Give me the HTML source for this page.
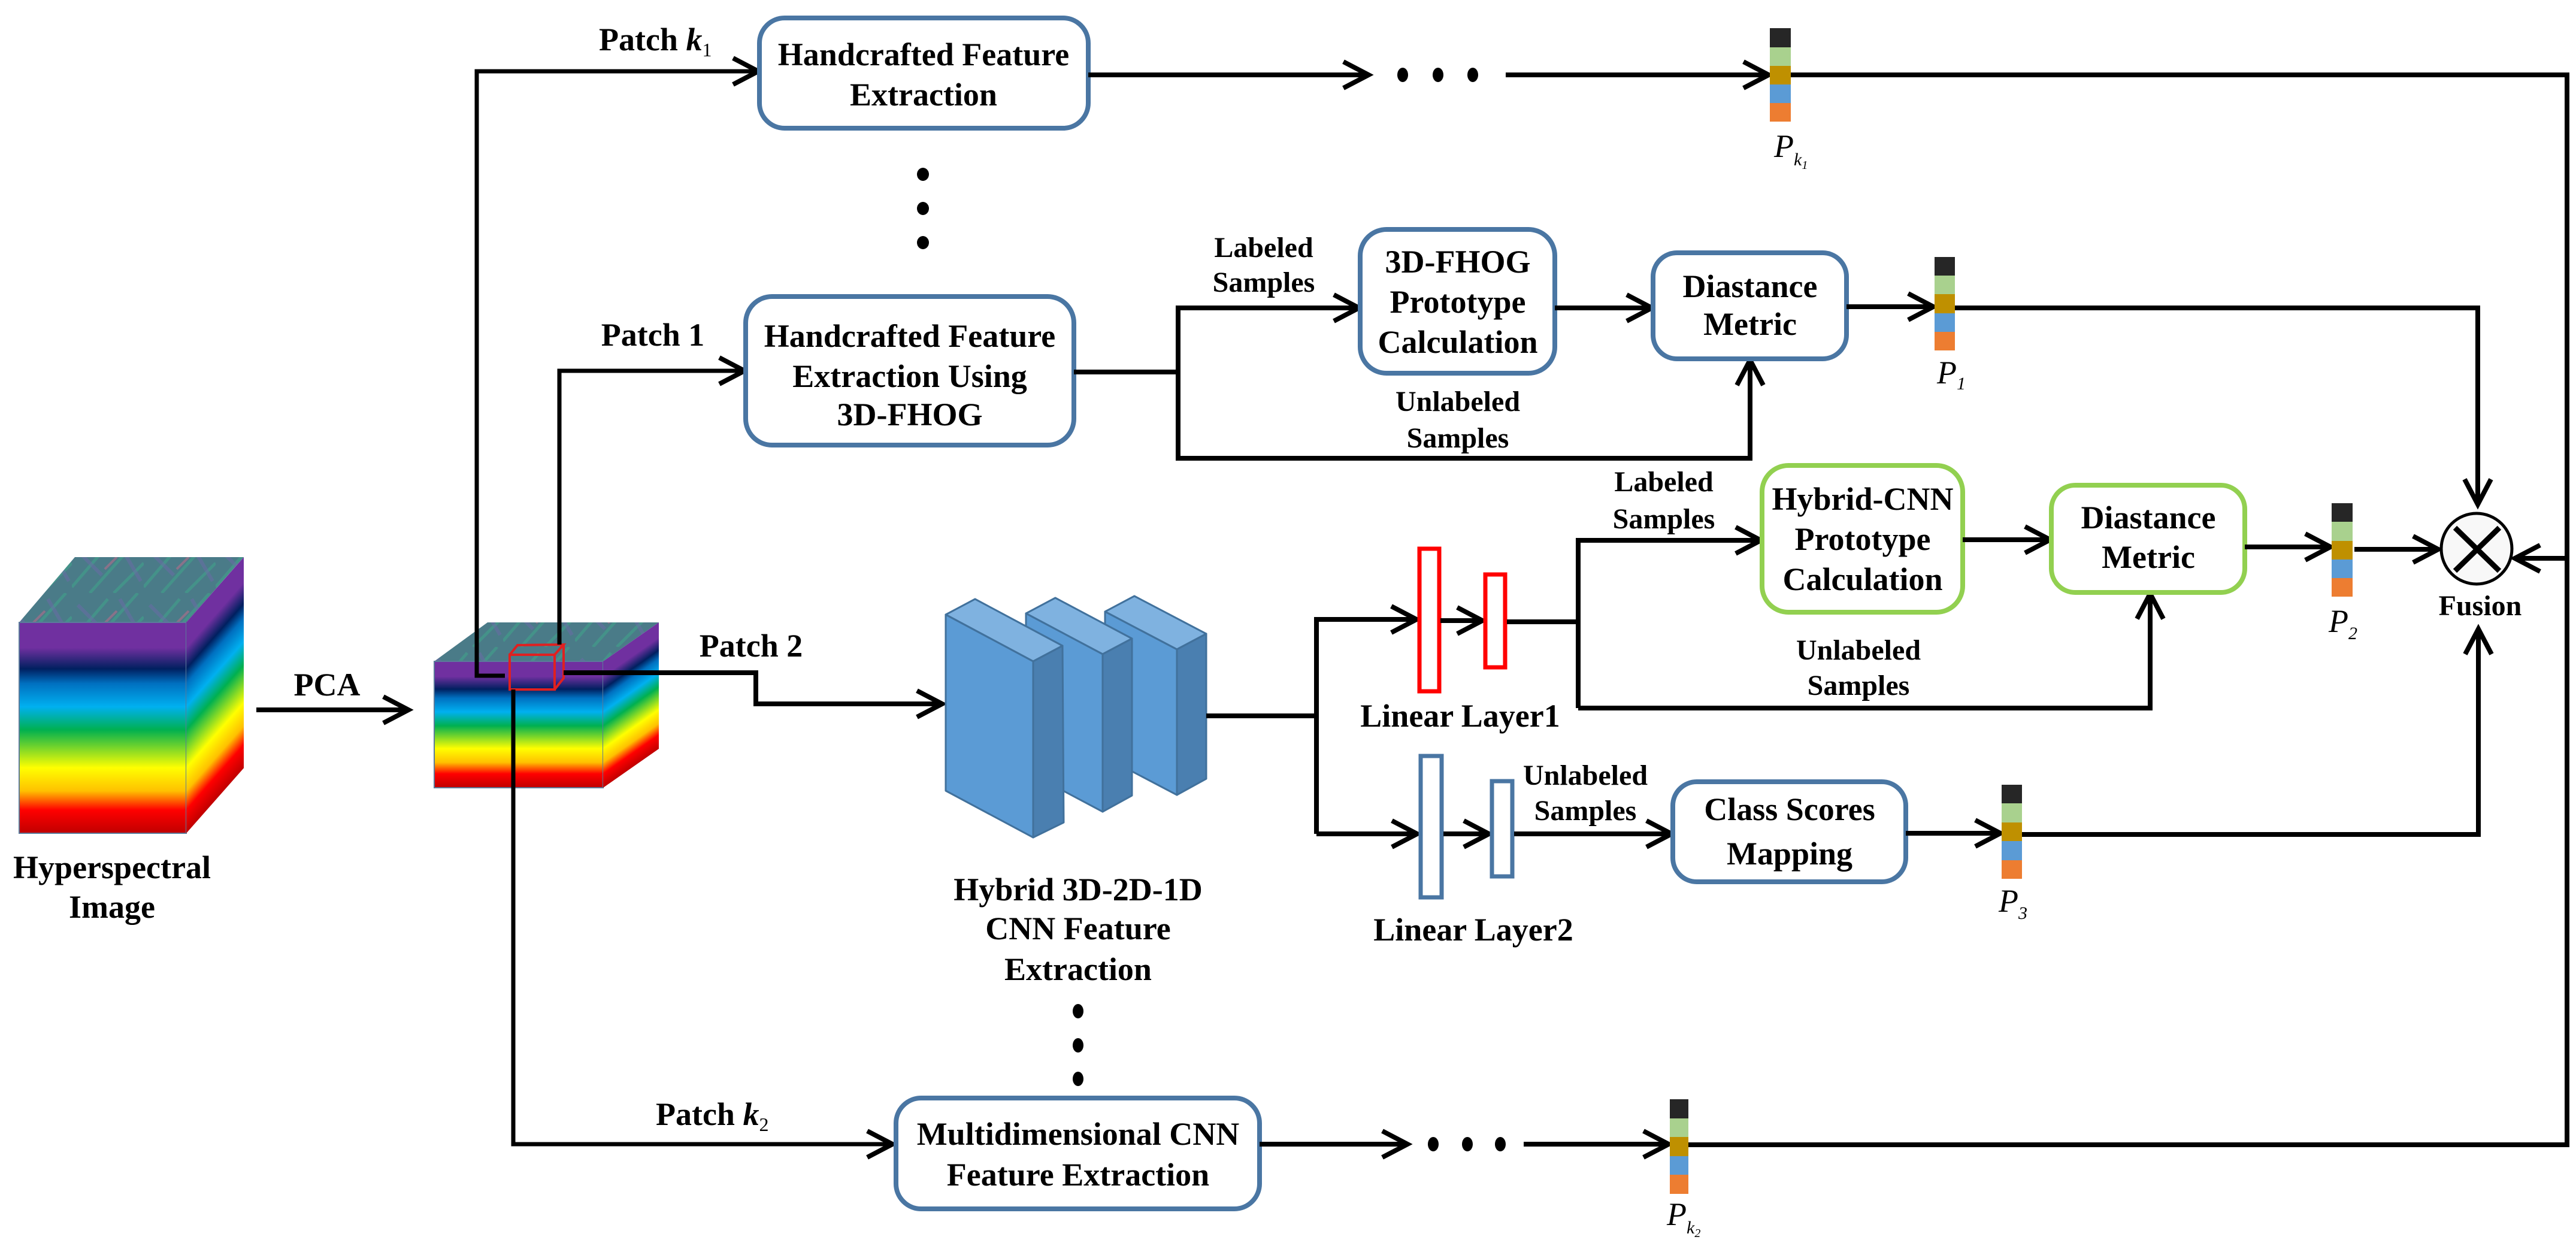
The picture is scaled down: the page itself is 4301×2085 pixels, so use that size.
<!DOCTYPE html>
<html><head><meta charset="utf-8"><style>
html,body{margin:0;padding:0;background:#fff;}
svg{display:block;}
svg text{font-family:"Liberation Serif","DejaVu Serif",serif !important;font-weight:bold;font-size:54px;fill:#000;text-anchor:middle;}
svg text.it{font-style:italic;font-weight:normal;}
.ln{fill:none;stroke:#000;stroke-width:8;}
.bb{fill:#fff;stroke:#4a76a3;stroke-width:8;}
.gb{fill:#fff;stroke:#92d050;stroke-width:8;}
</style></head><body>
<svg width="4301" height="2085" viewBox="0 0 4301 2085" xmlns="http://www.w3.org/2000/svg" font-family="Liberation Serif, serif">
<defs>
<marker id="a" markerUnits="userSpaceOnUse" markerWidth="60" markerHeight="60" viewBox="-50 -30 60 60" refX="0" refY="0" orient="auto">
<path d="M-42,-22 L0,0 L-42,22" fill="none" stroke="#000" stroke-width="8" stroke-linejoin="miter"/>
</marker>
<linearGradient id="spec" x1="0" y1="0" x2="0" y2="1">
<stop offset="0" stop-color="#7030a0"/><stop offset="0.12" stop-color="#7030a0"/>
<stop offset="0.22" stop-color="#002060"/><stop offset="0.29" stop-color="#0070c0"/>
<stop offset="0.40" stop-color="#00b0f0"/><stop offset="0.51" stop-color="#00b050"/>
<stop offset="0.69" stop-color="#ffff00"/><stop offset="0.80" stop-color="#ffc000"/>
<stop offset="0.89" stop-color="#ff0000"/><stop offset="1" stop-color="#c00000"/>
</linearGradient>
<pattern id="sat" patternUnits="userSpaceOnUse" width="120" height="90">
<rect width="120" height="90" fill="#4a7b88"/>
<path d="M0,80 L60,10 M30,90 L110,0 M70,90 L120,40" stroke="#3da98a" stroke-width="5" opacity="0.5"/>
<path d="M10,20 L50,60 M80,10 L115,70" stroke="#6b6aa8" stroke-width="6" opacity="0.5"/>
<path d="M55,50 L75,30" stroke="#c86a8a" stroke-width="4" opacity="0.5"/>
</pattern>
</defs>

<g font-family="Liberation Serif, serif">
<!-- Big cube -->
<polygon points="32,1039 311,1039 407,930 125,930" fill="url(#sat)"/>
<rect x="32" y="1039" width="279" height="352" fill="url(#spec)" stroke="#5b7b9b" stroke-width="2"/>
<g transform="translate(311,1039) skewY(-48.6)"><rect x="0" y="0" width="96" height="352" fill="url(#spec)"/></g>
<text x="187" y="1466">Hyperspectral</text>
<text x="187" y="1532">Image</text>

<!-- PCA -->
<text x="546" y="1161">PCA</text>
<line class="ln" x1="428" y1="1185" x2="682" y2="1185" marker-end="url(#a)"/>

<!-- Small cube -->
<polygon points="725,1104 1007,1104 1100,1039 814,1039" fill="url(#sat)"/>
<rect x="725" y="1104" width="282" height="211" fill="url(#spec)" stroke="#5b7b9b" stroke-width="2"/>
<g transform="translate(1007,1104) skewY(-34.95)"><rect x="0" y="0" width="93" height="211" fill="url(#spec)"/></g>
<g fill="none" stroke="#e02020" stroke-width="4">
<rect x="851" y="1093" width="75" height="58"/>
<polyline points="851,1093 864,1077 941,1076 926,1093"/>
<polyline points="941,1076 941,1132 926,1151"/>
</g>

<!-- Patch lines -->
<polyline class="ln" points="843,1128 796,1128 796,119 1266,119" marker-end="url(#a)" style="stroke-width:7"/>
<text x="1000" y="84" style="text-anchor:start">Patch <tspan style="font-style:italic">k</tspan><tspan font-size="32" dy="10" style="font-weight:normal">1</tspan></text>
<polyline class="ln" points="934,1076 934,619 1243,619" marker-end="url(#a)" style="stroke-width:7"/>
<text x="1090" y="577">Patch 1</text>
<polyline class="ln" points="941,1123 1262,1123 1262,1175 1573,1175" marker-end="url(#a)"/>
<text x="1254" y="1096">Patch 2</text>
<polyline class="ln" points="857,1151 857,1910 1490,1910" marker-end="url(#a)" style="stroke-width:7"/>
<text x="1095" y="1878" style="text-anchor:start">Patch <tspan style="font-style:italic">k</tspan><tspan font-size="32" dy="10" style="font-weight:normal">2</tspan></text>

<!-- HFE top -->
<rect class="bb" x="1268" y="30" width="549" height="184" rx="42"/>
<text x="1542" y="109">Handcrafted Feature</text>
<text x="1542" y="176">Extraction</text>
<line class="ln" x1="1817" y1="125" x2="2285" y2="125" marker-end="url(#a)"/>
<g fill="#000"><ellipse cx="2342" cy="125" rx="9" ry="12"/><ellipse cx="2401" cy="125" rx="9" ry="12"/><ellipse cx="2459" cy="125" rx="9" ry="12"/></g>
<line class="ln" x1="2514" y1="125" x2="2953" y2="125" marker-end="url(#a)"/>
<g><rect x="2955" y="47" width="35" height="32" fill="#262626"/><rect x="2955" y="79" width="35" height="31" fill="#a9d18e"/><rect x="2955" y="110" width="35" height="31" fill="#bf9000"/><rect x="2955" y="141" width="35" height="31" fill="#5b9bd5"/><rect x="2955" y="172" width="35" height="31" fill="#ed7d31"/></g>
<text class="it" x="2962" y="262" style="text-anchor:start">P<tspan font-size="30" dy="14">k</tspan><tspan font-size="20" dy="6">1</tspan></text>
<polyline class="ln" points="2990,125 4286,125 4286,1911 2819,1911"/>
<line class="ln" x1="4286" y1="932" x2="4199" y2="932" marker-end="url(#a)"/>

<g fill="#000"><ellipse cx="1541" cy="291" rx="10" ry="11"/><ellipse cx="1541" cy="348" rx="10" ry="11"/><ellipse cx="1541" cy="405" rx="10" ry="11"/></g>

<!-- 3D-FHOG branch -->
<rect class="bb" x="1245" y="495" width="548" height="248" rx="44"/>
<text x="1519" y="579">Handcrafted Feature</text>
<text x="1519" y="646">Extraction Using</text>
<text x="1519" y="710">3D-FHOG</text>
<polyline class="ln" points="1793,621 1967,621"/>
<polyline class="ln" points="1967,514 1967,765 2922,765 2922,601" marker-end="url(#a)"/>
<line class="ln" x1="1963" y1="514" x2="2269" y2="514" marker-end="url(#a)"/>
<text x="2110" y="429" style="font-size:48px">Labeled</text>
<text x="2110" y="487" style="font-size:48px">Samples</text>
<text x="2434" y="686" style="font-size:48px">Unlabeled</text>
<text x="2434" y="747" style="font-size:48px">Samples</text>
<rect class="bb" x="2271" y="383" width="325" height="240" rx="44"/>
<text x="2434" y="455">3D-FHOG</text>
<text x="2434" y="522">Prototype</text>
<text x="2434" y="589">Calculation</text>
<line class="ln" x1="2596" y1="514" x2="2758" y2="514" marker-end="url(#a)"/>
<rect class="bb" x="2760" y="422" width="323" height="177" rx="40"/>
<text x="2922" y="496">Diastance</text>
<text x="2922" y="559">Metric</text>
<line class="ln" x1="3083" y1="512" x2="3228" y2="512" marker-end="url(#a)"/>
<g><rect x="3230" y="429" width="34" height="31" fill="#262626"/><rect x="3230" y="460" width="34" height="31" fill="#a9d18e"/><rect x="3230" y="491" width="34" height="32" fill="#bf9000"/><rect x="3230" y="523" width="34" height="31" fill="#5b9bd5"/><rect x="3230" y="554" width="34" height="31" fill="#ed7d31"/></g>
<text class="it" x="3234" y="640" style="text-anchor:start">P<tspan font-size="30" dy="10">1</tspan></text>
<polyline class="ln" points="3264,514 4137,514 4137,842" marker-end="url(#a)"/>

<!-- CNN blocks -->
<g stroke="#41719c" stroke-width="3" stroke-linejoin="round">
<polygon points="1845,1021 1894,995 2014,1058 1965,1084" fill="#7fb2e0"/>
<polygon points="1965,1084 2014,1058 2014,1300 1965,1327" fill="#4a7fb0"/>
<polygon points="1845,1021 1965,1084 1965,1327 1845,1264" fill="#5b9bd5"/>
<polygon points="1713,1024 1762,998 1890,1066 1841,1092" fill="#7fb2e0"/>
<polygon points="1841,1092 1890,1066 1890,1328 1841,1355" fill="#4a7fb0"/>
<polygon points="1713,1024 1841,1092 1841,1355 1713,1287" fill="#5b9bd5"/>
<polygon points="1579,1026 1628,1000 1774,1078 1725,1104" fill="#7fb2e0"/>
<polygon points="1725,1104 1774,1078 1776,1373 1725,1398" fill="#4a7fb0"/>
<polygon points="1579,1026 1725,1104 1725,1398 1579,1320" fill="#5b9bd5"/>
</g>
<text x="1800" y="1503">Hybrid 3D-2D-1D</text>
<text x="1800" y="1568">CNN Feature</text>
<text x="1800" y="1636">Extraction</text>
<g fill="#000"><ellipse cx="1800" cy="1688" rx="9" ry="12"/><ellipse cx="1800" cy="1745" rx="9" ry="12"/><ellipse cx="1800" cy="1801" rx="9" ry="12"/></g>

<!-- CNN branches -->
<polyline class="ln" points="2014,1195 2198,1195"/>
<polyline class="ln" points="2198,1034 2198,1392"/>
<line class="ln" x1="2194" y1="1034" x2="2365" y2="1034" marker-end="url(#a)"/>
<rect x="2370" y="916" width="33" height="238" fill="#fff" stroke="#ff0000" stroke-width="7"/>
<line class="ln" x1="2405" y1="1036" x2="2475" y2="1036" marker-end="url(#a)"/>
<rect x="2480" y="959" width="33" height="155" fill="#fff" stroke="#ff0000" stroke-width="7"/>
<polyline class="ln" points="2516,1038 2635,1038"/>
<polyline class="ln" points="2635,902 2635,1182"/>
<line class="ln" x1="2631" y1="902" x2="2940" y2="902" marker-end="url(#a)"/>
<polyline class="ln" points="2635,1182 3590,1182 3590,991" marker-end="url(#a)"/>
<text x="2438" y="1213">Linear Layer1</text>
<text x="2778" y="820" style="font-size:48px">Labeled</text>
<text x="2778" y="882" style="font-size:48px">Samples</text>
<text x="3103" y="1101" style="font-size:48px">Unlabeled</text>
<text x="3103" y="1160" style="font-size:48px">Samples</text>
<rect class="gb" x="2942" y="777" width="335" height="245" rx="44"/>
<text x="3110" y="851">Hybrid-CNN</text>
<text x="3110" y="918">Prototype</text>
<text x="3110" y="985">Calculation</text>
<line class="ln" x1="3277" y1="901" x2="3423" y2="901" marker-end="url(#a)"/>
<rect class="gb" x="3425" y="810" width="323" height="179" rx="40"/>
<text x="3587" y="882">Diastance</text>
<text x="3587" y="948">Metric</text>
<line class="ln" x1="3748" y1="913" x2="3891" y2="913" marker-end="url(#a)"/>
<g><rect x="3893" y="840" width="35" height="31" fill="#262626"/><rect x="3893" y="871" width="35" height="32" fill="#a9d18e"/><rect x="3893" y="903" width="35" height="31" fill="#bf9000"/><rect x="3893" y="934" width="35" height="31" fill="#5b9bd5"/><rect x="3893" y="965" width="35" height="31" fill="#ed7d31"/></g>
<text class="it" x="3888" y="1055" style="text-anchor:start">P<tspan font-size="30" dy="12">2</tspan></text>
<line class="ln" x1="3931" y1="917" x2="4071" y2="917" marker-end="url(#a)"/>

<!-- Fusion -->
<circle cx="4135" cy="916" r="59" fill="#f8f8f8" stroke="#000" stroke-width="5"/>
<path d="M4099,881 L4173,953 M4173,881 L4099,953" stroke="#000" stroke-width="9"/>
<text x="4141" y="1027" style="font-size:48px">Fusion</text>

<!-- LL2 branch -->
<line class="ln" x1="2198" y1="1392" x2="2366" y2="1392" marker-end="url(#a)"/>
<rect x="2372" y="1262" width="35" height="236" fill="#fff" stroke="#4a76a3" stroke-width="7"/>
<line class="ln" x1="2410" y1="1392" x2="2486" y2="1392" marker-end="url(#a)"/>
<rect x="2491" y="1304" width="34" height="159" fill="#fff" stroke="#4a76a3" stroke-width="7"/>
<line class="ln" x1="2528" y1="1392" x2="2791" y2="1392" marker-end="url(#a)"/>
<text x="2647" y="1310" style="font-size:48px">Unlabeled</text>
<text x="2647" y="1369" style="font-size:48px">Samples</text>
<text x="2460" y="1570">Linear Layer2</text>
<rect class="bb" x="2793" y="1305" width="389" height="167" rx="40"/>
<text x="2988" y="1369">Class Scores</text>
<text x="2988" y="1443">Mapping</text>
<line class="ln" x1="3182" y1="1391" x2="3340" y2="1391" marker-end="url(#a)"/>
<g><rect x="3342" y="1310" width="34" height="31" fill="#262626"/><rect x="3342" y="1341" width="34" height="32" fill="#a9d18e"/><rect x="3342" y="1373" width="34" height="31" fill="#bf9000"/><rect x="3342" y="1404" width="34" height="32" fill="#5b9bd5"/><rect x="3342" y="1436" width="34" height="31" fill="#ed7d31"/></g>
<text class="it" x="3337" y="1522" style="text-anchor:start">P<tspan font-size="30" dy="12">3</tspan></text>
<polyline class="ln" points="3376,1393 4138,1393 4138,1050" marker-end="url(#a)"/>

<!-- MCNN -->
<rect class="bb" x="1496" y="1833" width="607" height="185" rx="42"/>
<text x="1800" y="1911">Multidimensional CNN</text>
<text x="1800" y="1979">Feature Extraction</text>
<line class="ln" x1="2103" y1="1910" x2="2350" y2="1910" marker-end="url(#a)"/>
<g fill="#000"><ellipse cx="2393" cy="1910" rx="9" ry="12"/><ellipse cx="2450" cy="1910" rx="9" ry="12"/><ellipse cx="2505" cy="1910" rx="9" ry="12"/></g>
<line class="ln" x1="2544" y1="1910" x2="2786" y2="1910" marker-end="url(#a)"/>
<g><rect x="2788" y="1835" width="31" height="32" fill="#262626"/><rect x="2788" y="1867" width="31" height="31" fill="#a9d18e"/><rect x="2788" y="1898" width="31" height="32" fill="#bf9000"/><rect x="2788" y="1930" width="31" height="31" fill="#5b9bd5"/><rect x="2788" y="1961" width="31" height="32" fill="#ed7d31"/></g>
<text class="it" x="2783" y="2045" style="text-anchor:start">P<tspan font-size="30" dy="14">k</tspan><tspan font-size="20" dy="6">2</tspan></text>
</g>
</svg>
</body></html>
